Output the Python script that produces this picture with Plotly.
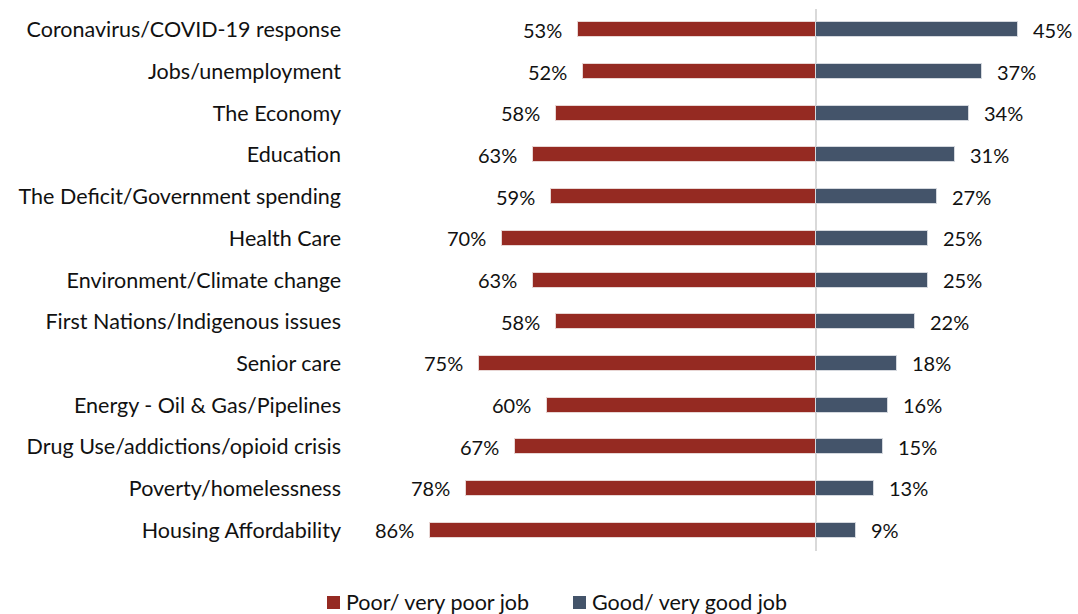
import plotly.graph_objects as go

categories = [
    "Coronavirus/COVID-19 response",
    "Jobs/unemployment",
    "The Economy",
    "Education",
    "The Deficit/Government spending",
    "Health Care",
    "Environment/Climate change",
    "First Nations/Indigenous issues",
    "Senior care",
    "Energy - Oil & Gas/Pipelines",
    "Drug Use/addictions/opioid crisis",
    "Poverty/homelessness",
    "Housing Affordability",
]
poor = [53, 52, 58, 63, 59, 70, 63, 58, 75, 60, 67, 78, 86]
good = [45, 37, 34, 31, 27, 25, 25, 22, 18, 16, 15, 13, 9]
series_names = ["Poor/ very poor job", "Good/ very good job"]

RED = "#952A22"
BLUE = "#44546A"
FONT = "Lato"
TXT = "#111111"

W, H = 1078, 614
ML, MR, MT, MB = 350, 8, 9, 63
PW, PH = W - ML - MR, H - MT - MB


def px_x(px):
    return (px - ML) / PW


def px_y(py):
    return (H - MB - py) / PH


fig = go.Figure()
fig.add_trace(go.Bar(
    y=categories, x=[-v for v in poor], orientation="h",
    name=series_names[0], marker=dict(color=RED, line=dict(color="#E8D6D4", width=1)),
    width=0.36, hoverinfo="skip",
))
fig.add_trace(go.Bar(
    y=categories, x=good, orientation="h",
    name=series_names[1], marker=dict(color=BLUE, line=dict(color="#D4D8DE", width=1)),
    width=0.36, hoverinfo="skip",
))

annotations = []
for c, p, g in zip(categories, poor, good):
    annotations.append(dict(x=-p, y=c, text=f"{p}%", showarrow=False, xanchor="right",
                            xshift=-14, font=dict(family=FONT, size=20, color=TXT)))
    annotations.append(dict(x=g, y=c, text=f"{g}%", showarrow=False, xanchor="left",
                            xshift=13, font=dict(family=FONT, size=20, color=TXT)))

# custom legend: coloured squares followed by series names
shapes = []
for name, color, sq_left in zip(series_names, [RED, BLUE], [327, 573]):
    shapes.append(dict(type="rect", xref="paper", yref="paper",
                       x0=px_x(sq_left), x1=px_x(sq_left + 13),
                       y0=px_y(609), y1=px_y(596), fillcolor=color, line=dict(width=0)))
    annotations.append(dict(xref="paper", yref="paper", x=px_x(sq_left + 17), y=px_y(602),
                            xanchor="left", yanchor="middle", text=name, showarrow=False,
                            font=dict(family=FONT, size=21.5, color=TXT)))

fig.update_layout(
    width=W, height=H,
    margin=dict(l=ML, r=MR, t=MT, b=MB),
    paper_bgcolor="white", plot_bgcolor="white",
    barmode="relative", bargap=0,
    font=dict(family=FONT, size=21.5, color=TXT),
    xaxis=dict(range=[-103.8, 56.6], showticklabels=False, showgrid=False,
               zeroline=True, zerolinecolor="#D9D9D9", zerolinewidth=2, fixedrange=True),
    yaxis=dict(categoryorder="array", categoryarray=categories, autorange="reversed",
               showgrid=False, zeroline=False, ticks="", ticklabelstandoff=8,
               tickfont=dict(family=FONT, size=21.5, color=TXT)),
    annotations=annotations,
    shapes=shapes,
    showlegend=False,
)

fig.write_html("out.html")
